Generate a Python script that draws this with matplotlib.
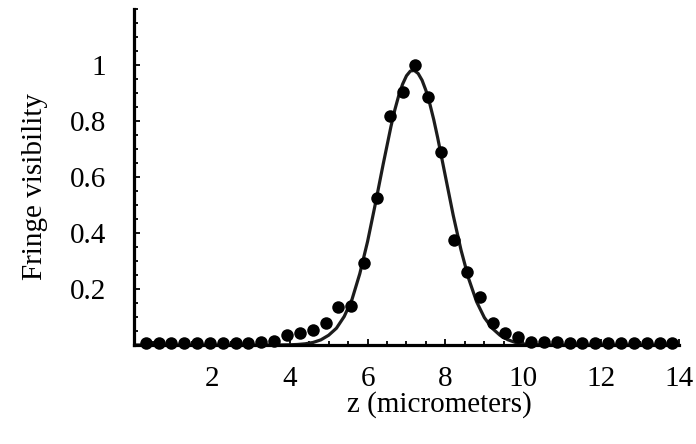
import matplotlib
matplotlib.use("Agg")
import matplotlib.pyplot as plt
from matplotlib.ticker import MultipleLocator, FixedLocator

# measured fringe visibility (dots)
z_data = [0.30, 0.63, 0.96, 1.29, 1.62, 1.95, 2.28, 2.61, 2.94, 3.27, 3.60,
          3.93, 4.26, 4.59, 4.92, 5.25, 5.58, 5.91, 6.24, 6.57, 6.90, 7.23,
          7.56, 7.89, 8.22, 8.55, 8.88, 9.21, 9.54, 9.87, 10.20, 10.53, 10.86,
          11.19, 11.52, 11.85, 12.18, 12.51, 12.84, 13.17, 13.50, 13.83]
vis_data = [0.006, 0.006, 0.006, 0.006, 0.006, 0.006, 0.006, 0.006, 0.006,
            0.012, 0.016, 0.035, 0.042, 0.052, 0.080, 0.135, 0.141, 0.294,
            0.526, 0.819, 0.906, 1.000, 0.887, 0.691, 0.374, 0.261, 0.171,
            0.077, 0.042, 0.028, 0.012, 0.010, 0.010, 0.007, 0.007, 0.007,
            0.007, 0.007, 0.007, 0.007, 0.007, 0.007]

# theoretical curve (solid line)
z_curve = [0.0, 3.4, 3.6, 3.8, 4.0, 4.2, 4.4, 4.6, 4.8, 5.0, 5.2, 5.4, 5.6,
           5.8, 6.0, 6.2, 6.4, 6.6, 6.7, 6.8, 6.9, 7.0, 7.1, 7.2, 7.3, 7.4,
           7.5, 7.6, 7.7, 7.8, 8.0, 8.2, 8.4, 8.6, 8.8, 9.0, 9.2, 9.4, 9.6,
           9.8, 10.0, 10.2, 10.4, 10.6, 10.8, 11.0, 14.0]
vis_curve = [0.0, 0.0, 0.0001, 0.0003, 0.0008, 0.0019, 0.0043, 0.0091, 0.0184,
             0.0349, 0.060, 0.102, 0.163, 0.255, 0.370, 0.505, 0.646, 0.781,
             0.841, 0.892, 0.933, 0.963, 0.980, 0.982, 0.971, 0.947, 0.910,
             0.862, 0.806, 0.742, 0.603, 0.464, 0.340, 0.236, 0.155, 0.098,
             0.060, 0.035, 0.019, 0.009, 0.004, 0.0017, 0.0007, 0.0002,
             0.0001, 0.0, 0.0]

x_major = [2, 4, 6, 8, 10, 12, 14]
x_labels = ["2", "4", "6", "8", "10", "12", "14"]
y_major = [0.2, 0.4, 0.6, 0.8, 1.0]
y_labels = ["0.2", "0.4", "0.6", "0.8", "1"]

plt.rcParams['font.family'] = ['Liberation Serif', 'DejaVu Serif']

fig = plt.figure(figsize=(6.96, 4.44), dpi=100)
ax = fig.add_axes([134/696, 1 - 345/444, (679-134)/696, (345-9.5)/444])

ax.plot(z_curve, vis_curve, color='#1c1c1c', lw=2.3, zorder=2,
        solid_capstyle='round', solid_joinstyle='round')
ax.plot(z_data, vis_data, 'o', color='black', ms=9, mew=0, zorder=3, clip_on=False)

ax.set_xlim(0, 14)
ax.set_ylim(0, 1.2)

for s in ['top', 'right']:
    ax.spines[s].set_visible(False)
for s in ['left', 'bottom']:
    ax.spines[s].set_linewidth(2.3)
    ax.spines[s].set_color('black')

ax.xaxis.set_major_locator(FixedLocator(x_major))
ax.set_xticklabels(x_labels)
ax.xaxis.set_minor_locator(MultipleLocator(0.5))
ax.yaxis.set_major_locator(FixedLocator(y_major))
ax.set_yticklabels(y_labels)
ax.yaxis.set_minor_locator(MultipleLocator(0.05))

ax.tick_params(axis='both', which='both', direction='in', width=1.3, colors='black')
ax.tick_params(axis='both', which='major', length=4.5, labelsize=21)
ax.tick_params(axis='both', which='minor', length=2.8)
ax.tick_params(axis='x', which='major', pad=15)
ax.tick_params(axis='y', which='major', pad=20)

ax.set_xlabel('z (micrometers)', fontsize=21, va='center')
ax.xaxis.set_label_coords(0.561, -(405 - 345) / 335.5)
ax.set_ylabel('Fringe visibility', fontsize=21, va='center')
ax.yaxis.set_label_coords((35 - 134) / 545, (345 - 186) / 335.5)

fig.savefig('out.png', dpi=100)
